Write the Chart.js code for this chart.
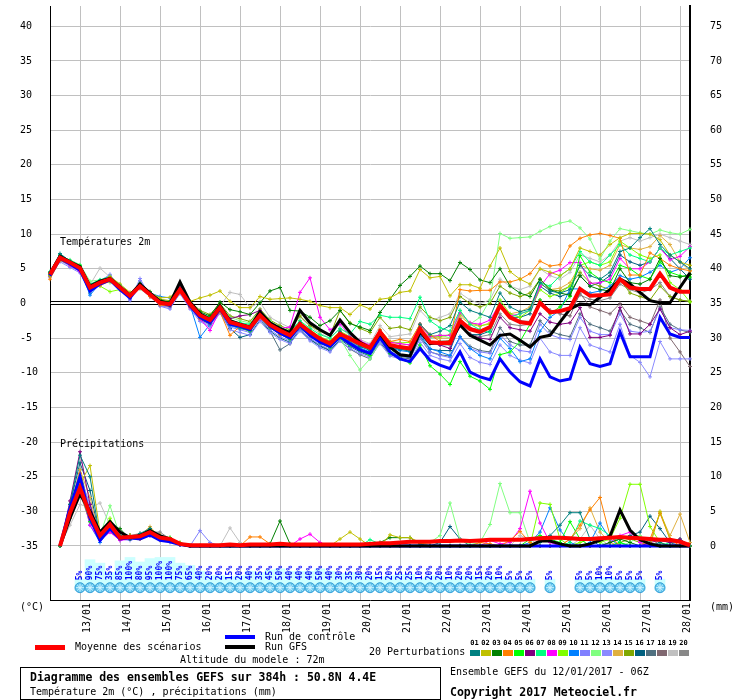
<!DOCTYPE html>
<html>
<head>
<meta charset="utf-8">
<script src="https://cdn.jsdelivr.net/npm/chart.js@4.4.1/dist/chart.umd.min.js"></script>
<style>
  body { margin: 0; background: #fff; overflow: hidden; }
  #wrap { position: relative; width: 740px; height: 700px; font-family: "DejaVu Sans Mono", monospace; font-size: 10px; color: #000; }
  #c { position: absolute; left: 0; top: 0; }
  .t { position: absolute; white-space: pre; line-height: 10px; }
  .b { font-weight: bold; font-size: 11.5px; line-height: 12px; }
  .sw { position: absolute; }
  .num { position: absolute; font-size: 7px; font-weight: bold; line-height: 7px; width: 11px; text-align: center; }
</style>
</head>
<body>
<div id="wrap">
  <canvas id="c" width="740" height="700"></canvas>
  <div class="t" style="left:60px;top:237px">Températures 2m</div>
  <div class="t" style="left:60px;top:439px">Précipitations</div>
  <div class="t" style="left:20px;top:602px">(°C)</div>
  <div class="t" style="left:710px;top:602px">(mm)</div>

  <div class="sw" style="left:35px;top:645px;width:30px;height:5px;background:#ff0000"></div>
  <div class="t" style="left:75px;top:642px">Moyenne des scénarios</div>
  <div class="sw" style="left:225px;top:635px;width:30px;height:4px;background:#0000ff"></div>
  <div class="t" style="left:265px;top:632px">Run de contrôle</div>
  <div class="sw" style="left:225px;top:645px;width:30px;height:4px;background:#000"></div>
  <div class="t" style="left:265px;top:642px">Run GFS</div>
  <div class="t" style="left:180px;top:655px">Altitude du modele : 72m</div>
  <div class="t" style="left:369px;top:647px">20 Perturbations</div>
  <div id="members"></div>

  <div class="sw" style="left:20px;top:667px;width:419px;height:31px;border:1px solid #000"></div>
  <div class="t b" style="left:30px;top:671px">Diagramme des ensembles GEFS sur 384h : 50.8N 4.4E</div>
  <div class="t" style="left:30px;top:687px">Température 2m (°C) , précipitations (mm)</div>
  <div class="t" style="left:450px;top:667px">Ensemble GEFS du 12/01/2017 - 06Z</div>
  <div class="t b" style="left:450px;top:686px">Copyright 2017 Meteociel.fr</div>
</div>
<script>
// 65 six-hourly steps, 12/01 06Z -> 28/01 06Z
const dayLabels = ['13/01', '14/01', '15/01', '16/01', '17/01', '18/01', '19/01', '20/01',
  '21/01', '22/01', '23/01', '24/01', '25/01', '26/01', '27/01', '28/01'];
const firstDay = 3; // step index of 13/01 00Z
const tempTicks = [-35, -30, -25, -20, -15, -10, -5, 0, 5, 10, 15, 20, 25, 30, 35, 40];
const precipTicks = [0, 5, 10, 15, 20, 25, 30, 35, 40, 45, 50, 55, 60, 65, 70, 75];

// snow probability (%) per step
const rainProb = [0, 0, 0,
  5, 90, 75, 35, 85, 100, 80, 95, 100, 100, 75, 65, 40, 20, 20, 15,
  20, 40, 35, 45, 50, 40, 40, 40, 50, 40, 30, 35, 30, 20, 15, 20,
  25, 25, 10, 20, 20, 10, 20, 20, 15, 20, 10, 5, 5, 5, 0, 5,
  0, 0, 5, 5, 10, 10, 5, 5, 5, 0, 5, 0, 0, 0];

const memberColors = ['#008080', '#c0c000', '#008000', '#ff8000', '#00ff00', '#800080', '#00ff80',
  '#ff00ff', '#80ff00', '#0080ff', '#8080ff', '#80ff80', '#8a8aff', '#e0b040', '#80a800',
  '#006080', '#507080', '#806870', '#c0c0c0', '#888888'];

// temperatures 2m (°C)
const tMean = [4.2, 6.6, 5.9,
  5.1, 2.3, 3.0, 3.5, 2.3, 1.1, 2.5, 1.3, 0.1, -0.1, 2.0, -0.1, -1.7, -2.4, -0.6, -2.7,
  -3.1, -3.5, -1.7, -3.1, -3.9, -4.6, -3.0, -4.1, -5.1, -5.8, -4.4, -5.1, -5.8, -6.4, -4.1, -6.0,
  -6.3, -6.5, -3.7, -5.6, -5.7, -5.7, -2.5, -3.7, -4.1, -3.4, -0.3, -2.0, -2.7, -2.9, 0.1, -1.3,
  -1.1, -0.7, 2.1, 1.1, 1.2, 1.3, 3.5, 2.3, 2.1, 2.1, 4.3, 2.3, 1.7, 1.7];
const tControl = [4.0, 6.5, 5.7,
  4.8, 1.8, 2.8, 3.4, 2.0, 0.8, 2.6, 1.5, 0.2, -0.3, 2.2, -0.3, -2.0, -2.8, -0.8, -3.0,
  -3.3, -3.8, -1.5, -3.3, -4.3, -5.0, -3.2, -4.6, -5.6, -6.2, -4.8, -5.8, -6.7, -7.2, -4.9, -7.0,
  -8.0, -8.4, -6.5, -8.2, -8.9, -9.4, -7.0, -9.9, -10.6, -11.0, -8.0, -9.9, -11.3, -11.9, -8.0, -10.6,
  -11.2, -10.9, -6.3, -8.7, -9.1, -8.7, -4.1, -7.7, -7.7, -7.7, -2.0, -4.4, -4.9, -4.9];
const tGfs = [4.3, 6.8, 6.0,
  5.3, 2.5, 3.2, 3.6, 2.4, 1.2, 2.8, 1.5, 0.3, 0.0, 3.1, 0.2, -1.5, -2.3, -0.3, -2.5,
  -3.0, -3.4, -1.2, -2.8, -3.6, -4.2, -1.0, -2.8, -3.8, -4.6, -2.4, -4.2, -5.6, -6.4, -4.4, -6.3,
  -7.4, -7.6, -4.1, -5.8, -5.6, -5.6, -3.1, -4.6, -5.3, -6.0, -4.6, -4.4, -5.3, -6.3, -4.9, -4.6,
  -2.7, -0.8, -0.1, -0.2, 0.9, 2.0, 3.5, 2.8, 1.6, 0.4, 0.1, 0.1, 2.3, 4.4];
const t01 = [4.5, 7.2, 6.1,
  5.0, 2.0, 3.2, 3.6, 2.5, 1.0, 2.7, 1.4, 0.2, -0.3, 1.8, -0.4, -2.0, -2.8, -0.5, -2.9,
  -3.4, -3.9, -1.4, -3.3, -4.2, -4.9, -2.8, -4.4, -5.5, -6.0, -4.0, -5.3, -6.2, -6.8, -4.0, -6.2,
  -6.6, -6.9, -3.0, -4.5, -4.0, -3.2, 0.2, -1.0, -1.5, -2.0, 1.5, -0.5, -1.2, -0.8, 3.0, 1.8,
  1.5, 2.0, 5.5, 4.0, 3.5, 4.5, 7.5, 8.0, 9.5, 10.8, 8.5, 7.0, 6.0, 5.0];
const t02 = [4.0, 6.3, 5.7,
  5.2, 2.6, 3.1, 3.9, 2.8, 1.6, 2.4, 1.6, 0.8, 0.9, 2.2, 0.3, 0.8, 1.2, 1.8, 0.3,
  -0.6, -0.6, 1.0, 0.6, 0.7, 0.8, 0.6, 0.3, -0.3, -0.6, -0.6, -1.6, -0.2, -0.8, 0.6, 0.8,
  1.6, 1.8, 4.9, 3.7, 3.9, 1.1, 2.7, 2.7, 2.2, 5.4, 8.0, 4.6, 3.5, 2.8, 5.0, 4.5,
  4.0, 5.0, 8.0, 7.5, 7.0, 8.5, 9.5, 10.1, 10.1, 10.0, 9.2, 7.0, 6.0, 5.5];
const t03 = [4.4, 6.9, 5.8,
  4.9, 2.4, 3.0, 3.4, 2.1, 1.0, 2.9, 1.7, 0.5, 0.2, 2.3, 0.1, -1.2, -1.8, 0.2, -0.9,
  -1.2, -1.6, 0.1, 1.8, 2.3, -1.0, -1.1, -2.0, -3.2, -2.5, -1.0, -2.9, -3.4, -3.9, -1.3, 0.6,
  2.6, 3.9, 5.4, 4.3, 4.3, 3.3, 5.9, 4.9, 3.4, 3.0, 5.0, 2.5, 1.5, 1.0, 3.5, 2.0,
  1.5, 1.2, 4.0, 2.5, 2.0, 1.8, 5.0, 3.0, 2.8, 3.5, 6.5, 4.0, 3.8, 4.2];
const t04 = [3.5, 6.2, 5.6,
  4.8, 2.0, 2.6, 3.2, 2.0, 0.9, 2.3, 1.0, -0.2, -0.4, 1.6, -0.5, -2.2, -2.9, -1.2, -4.6,
  -3.3, -3.8, -2.0, -3.4, -4.5, -5.0, -3.5, -4.6, -5.6, -6.1, -4.6, -5.4, -6.0, -6.6, -3.8, -5.5,
  -5.2, -5.5, -3.0, -4.5, -5.5, -5.4, 2.0, 1.8, 1.9, 1.9, 3.1, 3.1, 3.5, 4.3, 6.1, 5.4,
  5.6, 8.3, 9.4, 9.9, 10.1, 9.8, 9.4, 4.1, 4.1, 7.3, 6.5, 5.5, 5.0, 4.7];
const t05 = [4.0, 6.5, 6.0,
  5.4, 2.2, 2.9, 3.3, 2.4, 1.2, 2.4, 1.2, 0.0, -0.2, 1.9, -0.3, -1.9, -2.6, -0.9, -3.0,
  -3.5, -4.0, -2.0, -3.5, -4.4, -5.2, -3.4, -4.6, -5.7, -6.4, -5.0, -6.0, -6.8, -7.5, -5.0, -7.2,
  -8.0, -8.6, -6.0, -9.0, -10.2, -11.7, -8.4, -10.5, -11.2, -12.4, -7.4, -7.0, -5.5, -3.0, 0.5, -1.5,
  -0.5, 1.0, 6.9, 4.5, 3.5, 3.0, 5.5, 5.0, 4.0, 3.5, 6.0, 4.5, 4.0, 3.8];
const t06 = [4.1, 6.4, 5.8,
  5.0, 2.1, 2.8, 3.3, 2.1, 0.9, 2.3, 1.1, -0.1, -0.3, 1.8, -0.2, -1.8, -2.5, -0.8, -2.2,
  -1.8, -1.6, -1.0, -3.0, -3.8, -4.5, -2.8, -4.0, -5.0, -5.6, -4.2, -5.0, -5.8, -6.4, -4.4, -6.0,
  -6.2, -6.5, -3.5, -5.7, -6.0, -6.5, -2.8, -4.5, -5.0, -5.2, -2.0, -3.5, -3.8, -4.0, -1.5, -2.7,
  -3.0, -2.8, -0.6, -4.9, -4.9, -4.6, -0.6, -4.4, -4.4, -3.0, -0.8, -3.5, -4.5, -4.0];
const t07 = [4.6, 7.0, 6.2,
  5.5, 2.8, 3.4, 3.9, 2.7, 1.4, 2.8, 1.6, 0.4, 0.2, 2.4, 0.2, -1.4, -2.0, -0.4, -2.4,
  -2.8, -3.0, -1.4, -2.8, -3.5, -4.0, -2.5, -3.6, -4.5, -5.0, -3.6, -4.4, -2.6, -3.0, -1.7, -2.0,
  -2.0, -2.2, 0.9, -2.5, -3.5, -4.0, -1.0, -3.0, -3.8, -4.2, 0.0, -2.0, -1.5, -1.0, 3.0, 2.5,
  4.0, 5.0, 7.5, 6.0, 5.5, 7.0, 8.5, 7.0, 6.5, 6.0, 8.0, 7.0, 7.5, 8.0];
const t08 = [3.9, 6.4, 5.5,
  4.6, 2.0, 2.7, 3.7, 2.3, 1.0, 2.2, 1.0, -0.1, -0.2, 1.6, -0.6, -2.2, -3.9, -1.0, -3.0,
  -3.2, -3.4, -2.2, -3.0, -3.6, -3.4, 1.6, 3.7, -2.0, -3.8, -3.0, -4.6, -5.4, -6.0, -4.0, -5.6,
  -5.8, -6.0, -3.0, -4.8, -4.6, -4.6, -1.3, -2.8, -3.0, -2.4, 0.0, -1.8, -1.5, -1.0, 2.4, 4.3,
  4.8, 5.9, 5.9, 2.9, 3.0, 3.5, 6.5, 5.0, 5.0, 6.0, 8.0, 6.3, 6.8, 8.2];
const t09 = [4.3, 6.7, 6.0,
  5.4, 2.6, 2.5, 1.7, 2.0, 1.3, 2.5, 1.4, 0.2, 0.0, 2.1, 0.0, -1.5, -2.2, -0.5, -2.5,
  -2.9, -3.3, -1.5, -3.0, -3.7, -4.4, -2.7, -3.8, -4.8, -5.4, -4.0, -4.8, -5.5, -6.0, -3.8, -5.5,
  -5.7, -5.6, -3.0, -4.6, -4.8, -4.5, -1.5, -2.8, -3.2, -3.0, 0.5, -1.5, -2.0, -1.0, 2.0, 1.0,
  1.5, 2.5, 5.5, 6.0, 5.5, 6.0, 9.0, 8.0, 7.0, 6.5, 7.0, 3.0, 2.0, 0.2];
const t10 = [4.2, 6.6, 5.7,
  4.9, 1.2, 2.9, 3.4, 2.2, 0.9, 2.4, 1.5, 1.0, 0.8, 1.8, -0.2, -4.9, -3.0, -1.0, -3.2,
  -3.6, -3.8, -2.0, -3.5, -4.4, -5.0, -3.6, -4.6, -5.6, -6.2, -4.8, -5.6, -6.4, -7.0, -4.5, -6.4,
  -6.8, -7.0, -4.5, -6.5, -7.0, -7.5, -4.8, -6.5, -7.5, -8.0, -5.0, -6.5, -8.4, -8.0, -4.0, -2.0,
  -1.0, 2.1, 2.1, 1.5, 1.8, 2.5, 4.0, 3.5, 3.8, 4.5, 5.5, 4.5, 5.0, 6.6];
const t11 = [3.8, 6.2, 5.4,
  4.6, 1.7, 3.3, 4.0, 2.5, 0.6, 3.3, 1.2, -0.4, -0.8, 1.6, -0.6, -2.4, -3.2, -1.2, -3.4,
  -3.8, -4.2, -2.2, -3.8, -4.8, -5.4, -3.8, -5.0, -6.0, -6.6, -5.0, -6.0, -6.8, -7.4, -5.5, -7.0,
  -7.5, -7.8, -5.0, -7.0, -7.5, -7.8, -5.0, -6.5, -7.0, -7.2, -4.5, -6.0, -6.8, -7.0, -3.0, -4.5,
  -5.0, -5.2, -2.0, -4.0, -4.5, -4.5, -1.5, -4.0, -4.2, -4.0, -0.8, -3.5, -3.8, -3.9];
const t12 = [4.5, 6.8, 6.3,
  5.6, 3.2, 3.4, 3.0, 2.6, 1.5, 2.1, 1.0, 0.0, -0.2, 2.0, 0.0, -1.5, -2.0, -0.2, -2.0,
  -2.5, -2.8, -1.0, -2.5, -3.5, -4.2, -2.5, -4.0, -5.2, -6.0, -5.0, -7.5, -9.6, -8.0, -5.5, -7.0,
  -6.5, -6.5, -3.5, -5.0, -4.5, -5.0, -1.0, -3.0, -2.0, 0.5, 10.1, 9.4, 9.5, 9.6, 10.4, 11.1,
  11.6, 11.9, 10.9, 9.3, 6.4, 9.0, 10.8, 10.5, 10.2, 10.0, 10.6, 10.2, 10.0, 10.7];
const t13 = [4.0, 6.0, 5.2,
  4.4, 1.8, 3.2, 4.2, 2.2, 0.4, 3.6, 1.0, -0.3, -0.6, 1.4, -0.8, -2.6, -3.4, -1.4, -3.8,
  -4.2, -4.6, -2.6, -4.2, -5.2, -5.8, -4.0, -5.4, -6.4, -7.0, -5.4, -6.5, -7.2, -7.8, -5.8, -7.6,
  -8.0, -8.4, -5.6, -7.5, -8.0, -8.3, -5.8, -7.8, -8.5, -8.8, -6.0, -7.5, -8.2, -8.6, -5.0, -7.0,
  -7.5, -7.5, -3.5, -6.0, -6.5, -7.0, -3.0, -7.5, -8.5, -10.6, -5.5, -8.0, -8.0, -8.0];
const t14 = [4.1, 6.5, 5.9,
  5.0, 2.5, 3.1, 3.6, 2.3, 1.1, 2.6, 1.3, 0.3, 0.0, 2.0, -0.1, -1.6, -2.3, -0.7, -2.7,
  -3.0, -3.4, -1.6, -3.1, -3.9, -4.5, -2.9, -4.1, -5.0, -5.5, -4.2, -5.0, -5.6, -6.2, -4.0, -5.6,
  -5.8, -6.0, -3.2, -4.8, -5.0, -5.0, -1.8, -3.0, -3.3, -2.8, 0.0, -1.5, -1.2, -0.5, 2.8, 2.0,
  2.2, 3.0, 5.5, 5.0, 4.8, 5.5, 8.5, 8.0, 7.8, 8.2, 9.8, 8.5, 6.0, 4.7];
const t15 = [4.3, 6.9, 6.1,
  5.3, 2.7, 3.2, 3.6, 2.4, 1.2, 2.6, 1.6, 0.6, 0.4, 2.4, 0.3, -1.0, -1.6, 0.0, -1.8,
  -2.2, -2.6, -0.8, -2.4, -3.2, -3.8, -1.8, -3.2, -4.0, -4.6, -1.0, -2.8, -3.6, -4.2, -2.0, -3.6,
  -3.4, -3.8, -0.5, -2.0, -2.5, -2.0, 1.0, 0.0, -0.5, 0.0, 2.5, 1.5, 1.0, 1.5, 3.5, 2.0,
  1.8, 2.5, 4.5, 3.0, 2.5, 2.0, 3.5, 1.5, 1.0, 0.5, 2.5, 1.0, 0.5, 0.3];
const t16 = [4.0, 7.0, 6.0,
  5.0, 1.5, 2.9, 3.5, 2.2, 0.7, 2.8, 1.2, 0.0, -0.4, 1.9, -0.5, -2.3, -3.0, -1.3, -3.6,
  -4.9, -4.5, -2.4, -4.0, -5.0, -5.6, -3.8, -5.2, -6.2, -6.8, -5.2, -6.2, -7.0, -7.6, -5.5, -7.2,
  -7.6, -7.8, -4.8, -6.6, -6.8, -6.8, -3.0, -4.5, -4.5, -4.0, -0.5, -2.0, -2.0, -1.5, 2.5, 1.5,
  1.0, 1.5, 4.0, 2.5, 3.0, 4.0, 7.0, 6.0, 5.5, 6.0, 8.0, 6.5, 5.0, 3.5];
const t17 = [4.1, 6.6, 5.8,
  5.0, 2.0, 2.9, 3.3, 2.0, 0.8, 2.4, 1.1, -0.2, -0.4, 1.7, -0.4, -2.0, -2.7, -0.9, -3.1,
  -3.6, -4.0, -2.0, -4.0, -6.7, -5.8, -3.6, -5.2, -6.0, -6.8, -5.4, -6.6, -7.4, -8.0, -5.6, -7.4,
  -7.8, -8.0, -5.0, -7.0, -7.4, -7.6, -4.8, -6.2, -6.8, -7.0, -3.5, -5.5, -6.0, -6.0, -2.5, -4.0,
  -4.5, -4.8, -1.5, -3.0, -3.5, -4.0, -1.0, -3.0, -3.5, -4.2, -0.5, -3.0, -3.8, -4.2];
const t18 = [4.0, 6.4, 5.7,
  4.9, 2.0, 2.8, 3.3, 2.1, 0.8, 2.5, 1.0, -0.3, -0.5, 1.7, -0.4, -2.0, -2.6, -0.7, -2.8,
  -3.2, -3.6, -1.8, -3.4, -4.2, -4.8, -3.1, -4.4, -5.4, -6.0, -4.6, -5.5, -6.2, -6.6, -4.6, -6.3,
  -6.6, -6.6, -3.8, -5.5, -5.6, -5.4, -2.2, -3.5, -3.8, -3.5, -0.5, -2.0, -2.5, -2.6, 0.5, -1.0,
  -1.5, -1.8, 1.5, -0.5, -1.0, -1.5, 0.0, -2.0, -2.5, -3.0, 0.5, -5.0, -7.0, -9.1];
const t19 = [4.0, 6.3, 5.6,
  5.0, 2.7, 5.1, 3.8, 2.4, 1.0, 2.3, 1.4, 0.3, 0.1, 2.2, 0.2, -1.4, -1.9, -0.4, 1.6,
  1.3, -0.6, 0.2, -2.0, -2.8, -3.5, -2.0, -3.3, -4.3, -5.0, -3.6, -4.6, -5.2, -5.8, -3.2, -4.8,
  -4.6, -4.4, -1.0, -2.5, -2.0, -1.5, 1.5, 0.5, 0.0, 0.5, 3.5, 2.5, 2.0, 2.5, 5.0, 4.0,
  3.5, 4.5, 7.0, 6.5, 6.0, 7.0, 9.0, 9.5, 9.0, 9.5, 10.0, 9.5, 9.0, 8.5];
const t20 = [4.2, 6.7, 6.0,
  5.2, 2.2, 3.0, 3.4, 2.2, 1.0, 2.5, 1.2, 0.0, -0.2, 1.9, -0.3, -1.9, -2.6, -0.8, -2.9,
  -3.3, -3.7, -1.9, -3.4, -4.3, -5.0, -3.3, -4.5, -5.5, -6.2, -4.8, -5.6, -6.5, -7.2, -4.6, -6.4,
  -6.6, -6.8, -3.8, -5.8, -6.0, -6.0, -3.0, -4.4, -4.8, -4.5, -1.5, -3.0, -3.2, -3.0, 0.0, -1.0,
  -1.2, -0.8, 1.2, 0.6, 0.4, 0.8, 2.8, 2.0, 1.5, 2.0, 3.0, 1.0, 0.5, 0.3];

// precipitation per 6h (mm)
const pMean = [null, 0, 4.8,
  8.4, 4.5, 1.5, 3.1, 1.2, 1.3, 1.4, 2.0, 1.2, 1.0, 0.3, 0.1, 0.1, 0.1, 0.1, 0.2,
  0.1, 0.2, 0.2, 0.2, 0.3, 0.2, 0.2, 0.2, 0.2, 0.2, 0.2, 0.2, 0.2, 0.3, 0.4, 0.4,
  0.5, 0.6, 0.6, 0.6, 0.7, 0.7, 0.8, 0.7, 0.8, 0.9, 0.9, 0.9, 0.9, 1.0, 1.1, 1.2,
  1.2, 1.1, 1.0, 1.0, 1.1, 1.2, 1.3, 1.2, 1.1, 1.0, 0.9, 0.9, 0.6, 0.1];
const pControl = [null, 0, 5.5,
  10.0, 4.0, 0.8, 2.5, 1.0, 1.2, 1.0, 1.6, 0.8, 0.6, 0.2, 0, 0, 0, 0, 0,
  0, 0, 0, 0, 0, 0, 0, 0, 0, 0, 0, 0, 0, 0, 0, 0,
  0, 0, 0, 0, 0, 0, 0, 0, 0, 0, 0, 0, 0, 0, 0, 0,
  0, 0, 0, 0, 0, 0, 0, 0, 0, 0, 0, 0, 0, 0];
const pGfs = [null, 0, 4.0,
  7.5, 5.0, 2.0, 3.5, 2.0, 1.2, 1.5, 2.2, 1.5, 1.0, 0.3, 0, 0, 0, 0, 0,
  0, 0, 0, 0, 0, 0, 0, 0, 0, 0, 0, 0, 0, 0, 0, 0,
  0, 0, 0, 0, 0, 0, 0, 0, 0, 0, 0, 0, 0, 0, 0.7, 0.7,
  0.3, 0, 0, 0.3, 0.8, 1.4, 5.2, 2.3, 0.9, 0.3, 0, 0, 0, 0];
const p01 = [null, 0, 6.0,
  13.1, 10.0, 1.0, 3.0, 1.5, 1.0, 1.8, 2.5, 1.0, 0.8, 0.2, 0, 0, 0, 0, 0,
  0, 0, 0, 0, 0, 0, 0, 0, 0, 0, 0, 0, 0, 0, 0, 0,
  0, 0, 0, 0, 0, 0, 0, 0, 0, 0, 0, 0, 0, 0, 0.5, 1.5,
  3.0, 4.8, 4.8, 1.0, 0, 0, 0, 0, 0, 0, 0.5, 0, 0, 0];
const p02 = [null, 0, 4.0,
  9.0, 11.6, 2.0, 3.5, 1.0, 1.5, 1.2, 2.0, 1.5, 1.0, 0.5, 0, 0, 0, 0, 0,
  0, 0, 0, 0, 0, 0, 0, 0, 0, 0, 1.0, 2.0, 1.0, 0, 0, 1.6,
  1.2, 1.2, 0.5, 0, 0, 0, 0, 0, 0, 0, 0, 0, 0, 0, 0, 0,
  0, 0, 0, 0, 0, 0, 0, 0, 0, 0, 5.0, 1.0, 0.5, 0];
const p03 = [null, 0, 5.0,
  9.0, 5.0, 1.5, 3.0, 2.5, 1.0, 1.5, 2.5, 1.0, 1.0, 0.3, 0, 0, 0, 0, 0,
  0, 0, 0, 0.3, 3.6, 0.3, 0, 0, 0, 0, 0, 0, 0, 0, 0.5, 1.2,
  1.2, 1.2, 0.3, 0, 0, 0, 0, 0, 0, 0, 0, 0, 0, 0, 0, 0,
  0, 0, 0, 0, 0, 0.5, 1.0, 0.5, 0, 0, 0, 0, 0, 0];
const p04 = [null, 0, 5.5,
  10.5, 4.0, 1.0, 3.0, 1.5, 1.5, 1.0, 2.5, 1.5, 1.0, 0.3, 0, 0, 0, 0, 0,
  0, 1.3, 1.3, 0.3, 0, 0, 0, 0, 0, 0, 0, 0, 0, 0, 0, 0,
  0, 0, 0, 0, 0, 0, 0, 0, 0.5, 0.3, 0, 0.8, 2.1, 0.5, 0, 0,
  0, 1.0, 3.0, 5.2, 7.0, 1.5, 0, 0, 0, 1.0, 4.7, 1.0, 0, 0];
const p05 = [null, 0, 4.5,
  8.0, 3.5, 1.2, 3.0, 1.5, 1.2, 1.5, 2.0, 1.0, 1.2, 0.3, 0, 0, 0, 0, 0,
  0, 0, 0, 0, 0, 0, 0, 0, 0, 0, 0, 0, 0, 0, 0, 0,
  0, 0, 0, 0, 0, 0, 0, 0, 0, 0, 0, 0, 0, 1.0, 1.5, 1.0,
  0.5, 3.5, 1.0, 0, 0, 0, 0.5, 0, 0, 0, 0, 0, 0, 0];
const p06 = [null, 0, 6.5,
  13.6, 6.0, 1.0, 2.5, 1.0, 1.5, 1.2, 1.8, 1.0, 0.8, 0.2, 0, 0, 0, 0, 0,
  0, 0, 0, 0, 0, 0, 0, 0, 0, 0, 0, 0, 0, 0, 0, 0,
  0, 0, 0, 0, 0, 0, 0, 0, 0, 0, 0, 0, 0, 0, 0, 0,
  0, 0, 0, 0, 0, 0, 0, 0, 0, 0.5, 0.8, 0.5, 1.0, 0];
const p07 = [null, 0, 5.0,
  9.5, 4.5, 1.5, 3.5, 1.2, 1.5, 1.5, 2.0, 1.0, 1.0, 0.4, 0.1, 0, 0, 0, 0,
  0, 0, 0, 0, 0, 0, 0, 0, 0, 0, 0, 0, 0, 0.9, 0.3, 0,
  0, 0, 0, 0, 0, 0, 0, 0, 0, 0, 0, 0, 0, 0, 0, 0,
  0, 0.5, 3.6, 3.0, 2.5, 1.5, 0.5, 0, 0, 0, 0, 0.5, 1.0, 0];
const p08 = [null, 0, 4.0,
  8.5, 3.0, 0.8, 2.0, 0.8, 1.0, 1.2, 1.5, 1.0, 0.8, 0.2, 0, 0, 0, 0, 0,
  0, 0, 0, 0, 0, 0, 1.0, 1.7, 0.5, 0, 0, 0, 0, 0, 0, 0,
  0, 0, 0, 0, 0, 0, 0, 0, 0, 0.8, 0.3, 0.5, 2.5, 7.9, 3.3, 0.5,
  0, 0, 0, 0, 0, 0.5, 1.5, 2.0, 0.5, 0, 0, 0, 0, 0];
const p09 = [null, 0, 4.5,
  8.0, 4.0, 1.5, 4.0, 1.0, 1.5, 1.2, 2.0, 1.2, 1.0, 0.3, 0, 0, 0, 0, 0,
  0, 0, 0, 0, 0, 0, 0, 0, 0, 0, 0, 0, 0, 0, 0, 0,
  0, 0, 0, 0, 0, 0, 0, 0, 0, 0, 0, 0, 0, 0, 6.2, 6.0,
  1.0, 0, 0.5, 1.0, 0.5, 1.0, 4.0, 8.9, 8.9, 2.8, 0.5, 0, 0, 0];
const p10 = [null, 0, 5.0,
  9.0, 3.0, 0.5, 2.5, 1.5, 1.0, 1.5, 2.0, 1.0, 1.0, 0.2, 0, 0, 0, 0, 0,
  0, 0, 0, 0, 0, 0, 0, 0, 0, 0, 0, 0, 0, 0, 0, 0,
  0, 0, 0, 0, 0, 0, 0, 0, 0, 0, 0, 0, 0, 0.5, 2.0, 5.5,
  2.3, 0.5, 0, 0.5, 3.3, 1.0, 0, 0, 0, 0, 0, 0, 0, 0];
const p11 = [null, 0, 4.0,
  9.5, 5.5, 1.0, 2.5, 1.0, 0.8, 1.2, 1.8, 1.0, 0.8, 0.2, 0, 2.2, 0.5, 0, 0,
  0, 0, 0, 0, 0, 0, 0, 0, 0, 0, 0, 0, 0, 0, 0, 0,
  0, 0, 0, 0, 0, 0, 0, 0, 0, 0, 0, 0, 0, 0, 0, 0,
  0, 0, 0, 0, 0, 0, 0, 0, 0, 0, 0, 0, 0, 0];
const p12 = [null, 0, 4.5,
  9.0, 4.5, 1.5, 5.8, 1.5, 1.5, 1.5, 2.5, 1.5, 1.0, 0.5, 0, 0, 0, 0, 0,
  0, 0, 0, 0, 0, 0, 0, 0, 0, 0, 0, 0, 0, 0, 0, 0,
  0, 0, 0.2, 0.5, 1.5, 6.2, 0.9, 0.2, 0.5, 3.1, 9.0, 4.8, 4.8, 0.5, 0, 0,
  0, 0, 0.5, 1.0, 0.5, 0, 0, 0.5, 1.5, 0.5, 0, 0, 0, 0];
const p13 = [null, 0, 5.0,
  10.0, 6.0, 1.5, 2.8, 0.8, 1.2, 1.0, 1.5, 1.0, 0.5, 0.2, 0, 0, 0, 0, 0,
  0, 0, 0, 0, 0, 0, 0, 0, 0, 0, 0, 0, 0, 0, 0, 0,
  0, 0, 0, 0, 0, 0, 0, 0, 0, 0, 0, 0, 0, 0, 0, 0,
  0, 0, 0, 0, 0, 0, 0, 0, 0, 0, 0.5, 0, 0.8, 0];
const p14 = [null, 0, 5.5,
  11.0, 7.0, 1.0, 3.0, 1.0, 1.0, 1.5, 2.8, 1.2, 0.8, 0.3, 0, 0, 0, 0, 0,
  0, 0, 0, 0, 0, 0, 0, 0, 0, 0, 0, 0, 0, 0, 0, 0,
  0, 0, 0, 0, 0, 0, 0, 0, 0, 0, 0, 0, 0, 0, 0, 0,
  0, 1.0, 2.5, 5.5, 2.0, 0.5, 0, 0, 0, 0.5, 4.8, 1.5, 4.6, 0.5];
const p15 = [null, 0, 4.5,
  8.5, 4.5, 2.0, 3.5, 1.5, 1.5, 1.5, 2.0, 1.5, 1.2, 0.4, 0, 0, 0, 0, 0,
  0, 0, 0, 0, 0, 0, 0, 0, 0, 0, 0, 0, 0, 0, 0, 0,
  0, 0, 0, 0, 0, 0, 0, 0, 0, 0, 0, 0, 0, 0, 0, 0,
  0, 0, 0, 0, 0, 0, 0.5, 1.0, 0.5, 0, 0, 0, 0, 0];
const p16 = [null, 0, 6.0,
  12.0, 8.0, 1.0, 2.5, 1.2, 1.0, 1.5, 2.2, 1.0, 1.0, 0.2, 0, 0, 0, 0, 0,
  0, 0, 0, 0, 0, 0, 0, 0, 0, 0, 0, 0, 0, 0, 0, 0,
  0, 0, 0, 0, 0.5, 2.8, 1.0, 0, 0, 0, 0, 0, 0, 0, 0, 0,
  0, 0, 0, 0, 0, 0.5, 1.0, 1.5, 2.0, 4.3, 2.5, 0.5, 0, 0];
const p17 = [null, 0, 5.0,
  11.0, 5.0, 1.0, 3.5, 1.5, 1.2, 1.2, 2.0, 1.0, 1.0, 0.3, 0, 0, 0, 0, 0,
  0, 0, 0, 0, 0, 0, 0, 0, 0, 0, 0, 0, 0, 0, 0, 0,
  0, 0, 0, 0, 0, 0, 0, 0, 0, 0, 0, 0, 0, 0, 0, 0,
  0, 0, 0, 0, 0, 0, 0, 0, 0, 0, 0, 0, 0, 0];
const p18 = [null, 0, 4.5,
  9.0, 4.0, 1.2, 2.0, 1.0, 1.0, 1.0, 1.5, 0.8, 0.6, 0.2, 0, 0, 0, 0, 0,
  0, 0, 0, 0, 0, 0, 0, 0, 0, 0, 0, 0, 0, 0, 0, 0,
  0, 0, 0, 0, 0, 0, 0, 0, 0, 0, 0, 0, 0, 0, 0, 0,
  0, 0, 0, 0, 0, 0, 0, 0, 0, 0, 0.8, 0.5, 0.5, 0];
const p19 = [null, 0, 3.0,
  6.0, 5.5, 6.2, 3.0, 1.0, 1.0, 1.5, 2.0, 1.0, 0.8, 0.3, 0, 0, 0, 0, 2.6,
  0.5, 0, 0, 0, 0, 0, 0, 0, 0, 0, 0, 0, 0, 0, 0, 0,
  0, 0, 0, 0, 0, 0, 0, 0, 0, 0, 0, 0, 1.5, 1.0, 0, 0,
  0, 0, 1.0, 3.0, 1.0, 0, 0, 0, 0, 0, 0, 0, 0, 0];
const p20 = [null, 0, 4.0,
  7.5, 3.5, 2.0, 3.0, 1.0, 1.5, 1.8, 2.0, 2.0, 1.0, 0.3, 0, 0, 0, 0, 0,
  0, 0, 0, 0, 0, 0, 0, 0, 0, 0, 0, 0, 0, 0, 0, 0,
  0, 0, 0, 0, 0, 0, 0, 0, 0, 0, 0, 0, 0, 0, 0, 0,
  0, 0, 0, 0, 0, 0, 0, 0, 0, 0, 0, 0, 0, 0];

const tempMembers = [t01, t02, t03, t04, t05, t06, t07, t08, t09, t10,
  t11, t12, t13, t14, t15, t16, t17, t18, t19, t20];
const precipMembers = [p01, p02, p03, p04, p05, p06, p07, p08, p09, p10,
  p11, p12, p13, p14, p15, p16, p17, p18, p19, p20];

// axis layout: left °C axis, right mm axis is the same scale shifted by 35
const T_MIN = -42.8, T_MAX = 42.93, MM_SHIFT = 35;
const BAR_BASE = -45, SNOW_ROW = -33;
const FONT = { family: 'DejaVu Sans Mono', size: 10 };

const steps = rainProb.map((_, i) => 'H+' + (6 + 6 * i));
const isDay = i => i >= firstDay && (i - firstDay) % 4 === 0;

// legend of the 20 perturbations
const holder = document.getElementById('members');
memberColors.forEach((c, k) => {
  const n = document.createElement('div');
  n.className = 'num';
  n.style.left = (469 + 11 * k) + 'px';
  n.style.top = '640px';
  n.textContent = String(k + 1).padStart(2, '0');
  holder.appendChild(n);
  const s = document.createElement('div');
  s.className = 'sw';
  s.style.cssText = `left:${470 + 11 * k}px;top:650px;width:10px;height:6px;background:${c}`;
  holder.appendChild(s);
});

const datasets = [
  { data: tMean, yAxisID: 'y', borderColor: '#ff0000', borderWidth: 4, pointRadius: 0, order: 0 },
  { data: pMean, yAxisID: 'y2', borderColor: '#ff0000', borderWidth: 4, pointRadius: 0, order: 0 },
  { data: tGfs, yAxisID: 'y', borderColor: '#000000', borderWidth: 3, pointRadius: 0, order: 1 },
  { data: pGfs, yAxisID: 'y2', borderColor: '#000000', borderWidth: 3, pointRadius: 0, order: 1 },
  { data: tControl, yAxisID: 'y', borderColor: '#0000ff', borderWidth: 3, pointRadius: 0, order: 2 },
  { data: pControl, yAxisID: 'y2', borderColor: '#0000ff', borderWidth: 3, pointRadius: 0, order: 2 }
];
tempMembers.forEach((d, k) => {
  const member = { borderColor: memberColors[k], pointBorderColor: memberColors[k], borderWidth: 1,
    pointStyle: 'cross', pointRadius: 2, pointBorderWidth: 1, order: 3 };
  datasets.push(Object.assign({ data: d, yAxisID: 'y' }, member));
  datasets.push(Object.assign({ data: precipMembers[k], yAxisID: 'y2' }, member));
});
// snow icons and probability bars
datasets.push({ data: rainProb.map(p => p > 0 ? SNOW_ROW : null), yAxisID: 'yp', showLine: false,
  pointStyle: 'star', pointRadius: 4, pointBorderColor: '#d4f4ff', pointBorderWidth: 1, order: 4 });
datasets.push({ data: rainProb.map(p => p > 0 ? SNOW_ROW : null), yAxisID: 'yp', showLine: false,
  pointStyle: 'circle', pointRadius: 5, pointBackgroundColor: '#5ec4ee', pointBorderColor: '#3a9fd6',
  pointBorderWidth: 1, order: 5 });
datasets.push({ type: 'bar', data: rainProb.map(p => p > 0 ? [BAR_BASE, p] : null), yAxisID: 'yp',
  backgroundColor: '#ccffff', categoryPercentage: 1, barPercentage: 1, order: 6 });

const extras = {
  id: 'extras',
  beforeDatasetsDraw(chart) {
    const { ctx, chartArea, scales } = chart;
    const y0 = Math.round(scales.y.getPixelForValue(0));
    ctx.save();
    ctx.strokeStyle = '#000';
    ctx.lineWidth = 1;
    [y0 - 1.5, y0 + 1.5].forEach(yy => {
      ctx.beginPath();
      ctx.moveTo(chartArea.left, yy);
      ctx.lineTo(chartArea.right, yy);
      ctx.stroke();
    });
    ctx.restore();
  },
  afterDatasetsDraw(chart) {
    const { ctx, scales } = chart;
    ctx.save();
    ctx.fillStyle = '#0000ff';
    ctx.font = 'bold 8px "DejaVu Sans Mono"';
    ctx.textAlign = 'left';
    ctx.textBaseline = 'middle';
    const yb = scales.yp.getPixelForValue(0);
    rainProb.forEach((p, i) => {
      if (!p) return;
      ctx.save();
      ctx.translate(scales.x.getPixelForValue(i), yb);
      ctx.rotate(-Math.PI / 2);
      ctx.fillText(p + '%', 0, 0);
      ctx.restore();
    });
    ctx.restore();
  }
};

new Chart(document.getElementById('c'), {
  type: 'line',
  data: { labels: steps, datasets },
  plugins: [extras],
  options: {
    responsive: false,
    devicePixelRatio: 1,
    animation: false,
    events: [],
    layout: { padding: { left: 20, top: 0, right: 0, bottom: 0 } },
    plugins: { legend: { display: false }, tooltip: { enabled: false } },
    elements: { line: { tension: 0 } },
    scales: {
      x: {
        type: 'category',
        offset: false,
        grid: { offset: false, drawTicks: false, color: ctx => isDay(ctx.index) ? '#c0c0c0' : 'rgba(0,0,0,0)' },
        border: { display: true, color: '#000', width: 1 },
        ticks: {
          autoSkip: false, minRotation: 90, maxRotation: 90, padding: 3, labelOffset: 7,
          font: FONT, color: '#000',
          callback: (v, i) => isDay(i) ? dayLabels[(i - firstDay) / 4] : ''
        },
        afterFit: s => { s.height = 100; s.paddingLeft = 0; s.paddingRight = 0; }
      },
      y: {
        position: 'left', min: T_MIN, max: T_MAX,
        afterBuildTicks: s => { s.ticks = tempTicks.map(v => ({ value: v })); },
        afterFit: s => { s.width = 30; s.paddingTop = 0; s.paddingBottom = 0; },
        grid: { drawTicks: false, color: ctx => ctx.tick && ctx.tick.value === 0 ? 'rgba(0,0,0,0)' : '#c0c0c0' },
        border: { color: '#000', width: 1 },
        ticks: { crossAlign: 'far', padding: 0, font: FONT, color: '#000' }
      },
      y2: {
        position: 'right', min: T_MIN + MM_SHIFT, max: T_MAX + MM_SHIFT,
        afterBuildTicks: s => { s.ticks = precipTicks.map(v => ({ value: v })); },
        afterFit: s => { s.width = 50; s.paddingTop = 0; s.paddingBottom = 0; },
        grid: { drawOnChartArea: false, drawTicks: false },
        border: { color: '#000', width: 2 },
        ticks: { padding: 20, font: FONT, color: '#000' }
      },
      yp: { display: false, min: -87, max: 2522 }
    }
  }
});
</script>
</body>
</html>
